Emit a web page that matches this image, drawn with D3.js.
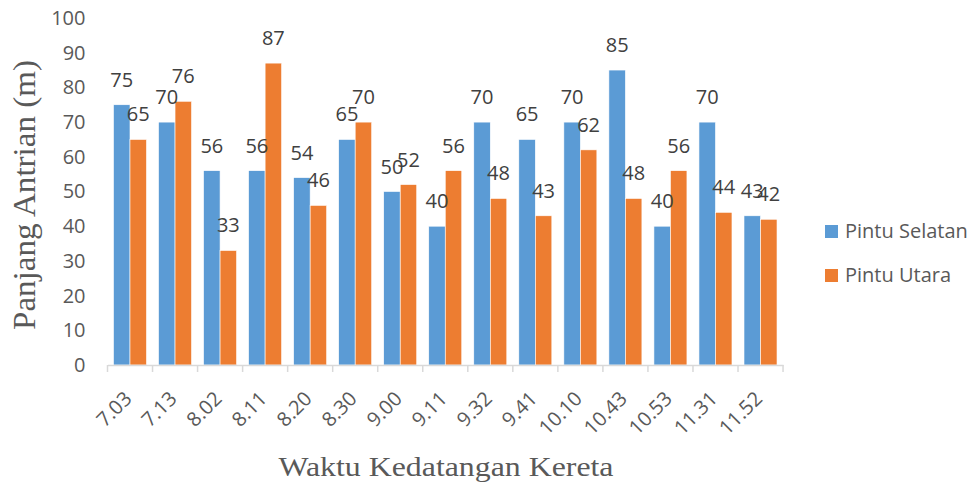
<!DOCTYPE html>
<html lang="id">

<head>
    <meta charset="UTF-8">
    <title>Panjang Antrian</title>
    <script src="https://d3js.org/d3.v7.min.js"></script>
    <style>
        body {
            margin: 0;
            background: #fff;
        }

        .tick text,
        .bar-label,
        .legend text {
            font-family: "Open Sans", sans-serif;
        }

        .axis-title {
            font-family: "Liberation Serif", "Times New Roman", serif;
            fill: #595959;
        }
    </style>
</head>

<body>
    <svg id="chart" width="977" height="488"></svg>

    <script>
        // Data
        const categories = ["7.03", "7.13", "8.02", "8.11", "8.20", "8.30", "9.00", "9.11",
            "9.32", "9.41", "10.10", "10.43", "10.53", "11.31", "11.52"];
        const seriesNames = ["Pintu Selatan", "Pintu Utara"];
        const pintuSelatan = [75, 70, 56, 56, 54, 65, 50, 40, 70, 65, 70, 85, 40, 70, 43];
        const pintuUtara = [65, 76, 33, 87, 46, 70, 52, 56, 48, 43, 62, 48, 56, 44, 42];
        const yTicks = [0, 10, 20, 30, 40, 50, 60, 70, 80, 90, 100];

        const colors = ["#5B9BD5", "#ED7D31"];

        const plot = { left: 107.5, right: 783, top: 18, bottom: 365 };

        const svg = d3.select("#chart");

        // Scales
        const x = d3.scaleBand()
            .domain(categories)
            .range([plot.left, plot.right])
            .paddingInner(0.267)
            .paddingOuter(0.133);

        const xSub = d3.scaleBand()
            .domain(seriesNames)
            .range([0, x.bandwidth()]);

        const y = d3.scaleLinear()
            .domain([0, 100])
            .range([plot.bottom, plot.top]);

        const rows = categories.map((c, i) => ({
            cat: c,
            values: [
                { name: seriesNames[0], value: pintuSelatan[i] },
                { name: seriesNames[1], value: pintuUtara[i] }
            ]
        }));

        // Y axis (labels only)
        const yAxis = svg.append("g")
            .attr("transform", `translate(${plot.left},0)`)
            .call(d3.axisLeft(y).tickValues(yTicks).tickSize(0).tickPadding(22));
        yAxis.select(".domain").remove();
        yAxis.selectAll("text")
            .attr("fill", "#595959")
            .style("font-size", "20px");

        // Bars
        const groups = svg.append("g").selectAll("g")
            .data(rows)
            .join("g")
            .attr("transform", d => `translate(${x(d.cat)},0)`);

        groups.selectAll("rect")
            .data(d => d.values)
            .join("rect")
            .attr("x", d => xSub(d.name))
            .attr("y", d => y(d.value))
            .attr("width", xSub.bandwidth())
            .attr("height", d => y(0) - y(d.value))
            .attr("fill", (d, i) => colors[i])
            .attr("stroke", "#fff")
            .attr("stroke-width", 0.6);

        groups.selectAll("text")
            .data(d => d.values)
            .join("text")
            .attr("class", "bar-label")
            .attr("x", d => xSub(d.name) + xSub.bandwidth() / 2)
            .attr("y", d => y(d.value) - 18)
            .attr("text-anchor", "middle")
            .attr("fill", "#404040")
            .style("font-size", "20px")
            .text(d => d.value);

        // X axis
        const xAxis = svg.append("g")
            .attr("transform", `translate(0,${plot.bottom})`)
            .call(d3.axisBottom(x).tickSize(0).tickPadding(0));
        xAxis.select(".domain")
            .attr("stroke", "#d9d9d9")
            .attr("stroke-width", 1.5);

        // category boundary ticks
        svg.append("g").selectAll("line")
            .data(d3.range(categories.length + 1))
            .join("line")
            .attr("x1", i => plot.left + i * x.step())
            .attr("x2", i => plot.left + i * x.step())
            .attr("y1", plot.bottom)
            .attr("y2", plot.bottom + 7)
            .attr("stroke", "#d9d9d9")
            .attr("stroke-width", 1.5);

        xAxis.selectAll("text")
            .attr("fill", "#595959")
            .style("font-size", "20px")
            .attr("text-anchor", "end")
            .attr("dy", 0)
            .attr("transform", "translate(3,35) rotate(-45)");

        // Axis titles
        svg.append("text")
            .attr("class", "axis-title")
            .attr("transform", `translate(35,195) rotate(-90)`)
            .attr("text-anchor", "middle")
            .attr("textLength", 270)
            .attr("lengthAdjust", "spacingAndGlyphs")
            .style("font-size", "31px")
            .text("Panjang Antrian (m)");

        svg.append("text")
            .attr("class", "axis-title")
            .attr("x", 446)
            .attr("y", 476)
            .attr("text-anchor", "middle")
            .attr("textLength", 335)
            .attr("lengthAdjust", "spacingAndGlyphs")
            .style("font-size", "27px")
            .text("Waktu Kedatangan Kereta");

        // Legend
        const legend = svg.append("g").attr("class", "legend")
            .selectAll("g")
            .data(seriesNames)
            .join("g")
            .attr("transform", (d, i) => `translate(825,${225 + i * 44})`);

        legend.append("rect")
            .attr("width", 13)
            .attr("height", 13)
            .attr("fill", (d, i) => colors[i]);

        legend.append("text")
            .attr("x", 20)
            .attr("y", 13)
            .attr("fill", "#595959")
            .style("font-size", "20px")
            .text(d => d);
    </script>
</body>

</html>
